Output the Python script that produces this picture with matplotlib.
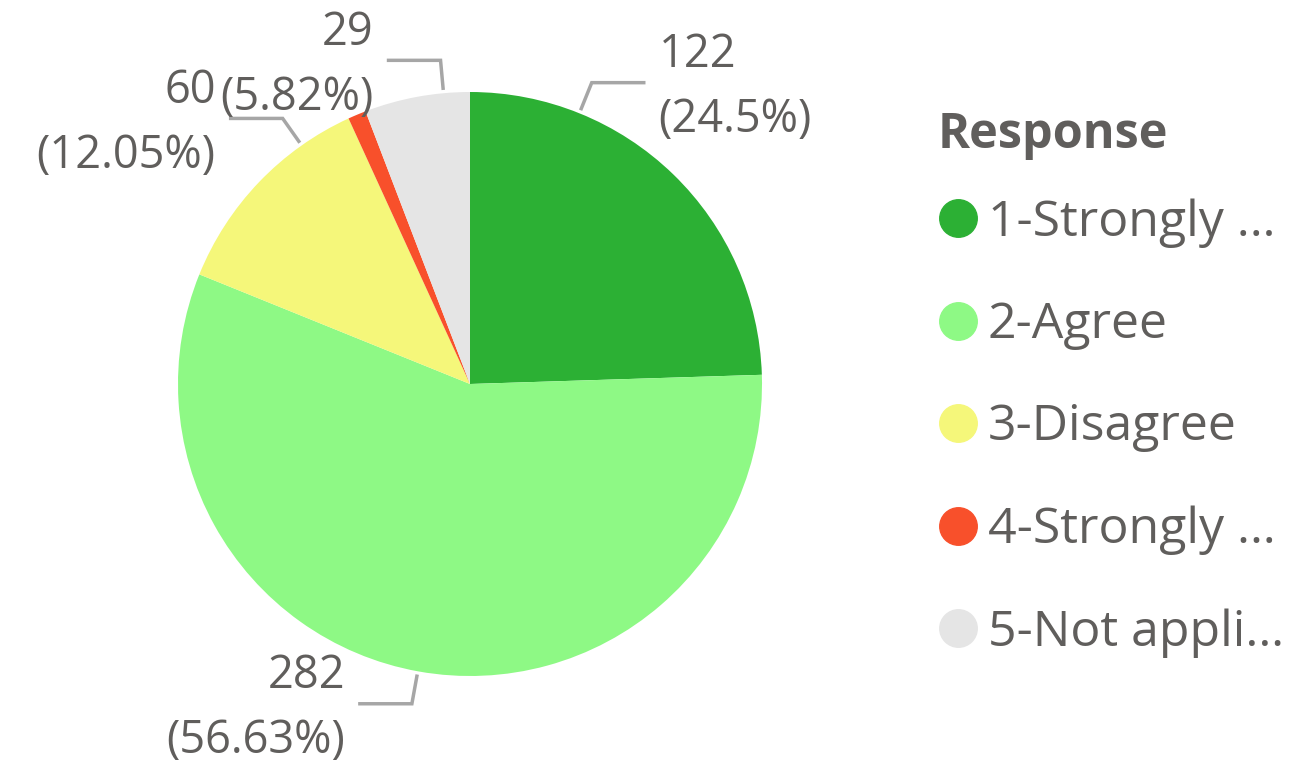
import matplotlib.pyplot as plt
from matplotlib.lines import Line2D
import numpy as np

plt.rcParams['font.family'] = ['Open Sans', 'DejaVu Sans']

categories = ['1-Strongly …', '2-Agree', '3-Disagree', '4-Strongly …', '5-Not appli…']
counts = [122, 282, 60, 5, 29]
colors = ['#2CB034', '#8EF985', '#F5F77A', '#F8502B', '#E5E5E5']
# which slices carry a data label, with the angle (deg clockwise from top) of the leader line
label_angle = {0: 22, 1: 190.3, 2: 324.8, 4: 354.8}

W, H = 1295, 764
cx, cy, R = 470, H - 384, 292
txt_color = '#605E5C'

fig = plt.figure(figsize=(W / 100, H / 100), dpi=100)
ax = fig.add_axes([0, 0, 1, 1])

ax.pie(counts, colors=colors, startangle=90, counterclock=False,
       center=(cx, cy), radius=R, wedgeprops=dict(linewidth=0))
ax.set_xlim(0, W)
ax.set_ylim(0, H)
ax.set_aspect('equal')
ax.axis('off')

total = sum(counts)
for i, ang in label_angle.items():
    a = np.deg2rad(ang)
    dx, dy = np.sin(a), np.cos(a)
    x0, y0 = cx + (R + 5) * dx, cy + (R + 5) * dy
    x1, y1 = cx + (R + 33) * dx, cy + (R + 33) * dy
    side = 1 if dx > 0 else -1
    x2 = x1 + side * 52
    ax.plot([x0, x1, x2], [y0, y1, y1], color='#A6A6A6', lw=2.5, solid_joinstyle='miter')
    pct = counts[i] / total * 100
    s = f'{counts[i]}\n({pct:.2f}%)'.replace('.50%', '.5%')
    ax.text(x2 + side * 15, y1 - 5, s, ha='left' if side > 0 else 'right',
            va='center', multialignment='left' if side > 0 else 'right',
            fontsize=32.5, color=txt_color, linespacing=1.55)

# legend title
fig.text(938 / W, 1 - 135 / H, 'Response', ha='left', va='center',
         fontsize=35, fontweight='bold', color=txt_color)

handles = [Line2D([], [], marker='o', linestyle='', markersize=27,
                  markerfacecolor=c, markeredgecolor=c) for c in colors]
leg = ax.legend(handles, categories, loc='upper left',
                bbox_to_anchor=(914 / W, 1 - 173 / H), bbox_transform=fig.transFigure,
                frameon=False, fontsize=36, handlelength=0.75, handletextpad=0.22,
                labelspacing=1.06, borderpad=0)
for t in leg.get_texts():
    t.set_color(txt_color)

fig.savefig('out.png', dpi=100)
